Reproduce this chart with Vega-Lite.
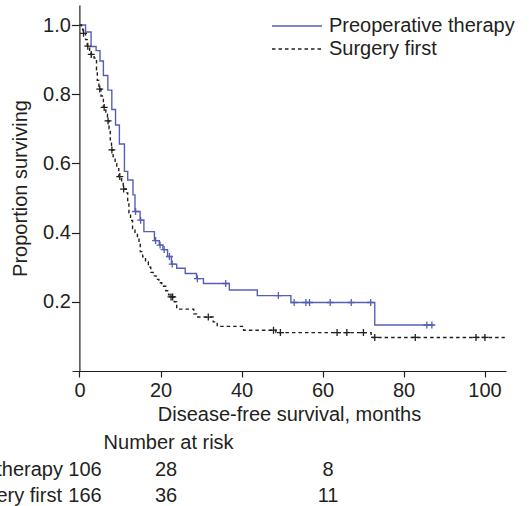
{
  "$schema": "https://vega.github.io/schema/vega-lite/v6.json",
  "width": 434,
  "height": 366,
  "autosize": {"type": "none"},
  "padding": {"left": 72, "top": 5, "right": 23, "bottom": 135},
  "config": {
    "view": {"stroke": null},
    "font": "Liberation Sans",
    "axis": {
      "labelFont": "Liberation Sans", "titleFont": "Liberation Sans",
      "labelFontSize": 20, "titleFontSize": 20, "titleFontWeight": "normal",
      "labelColor": "#231f20", "titleColor": "#231f20",
      "domainColor": "#231f20", "tickColor": "#231f20",
      "domainWidth": 1.2, "tickWidth": 1.2, "grid": false
    },
    "text": {"font": "Liberation Sans", "fontSize": 20, "color": "#231f20"}
  },
  "datasets": {
    "km": [
      {"group": "Preoperative therapy", "time": 0, "surv": 1.0},
      {"group": "Preoperative therapy", "time": 1.5, "surv": 0.98},
      {"group": "Preoperative therapy", "time": 2.86, "surv": 0.938},
      {"group": "Preoperative therapy", "time": 4.1, "surv": 0.926},
      {"group": "Preoperative therapy", "time": 5.06, "surv": 0.896},
      {"group": "Preoperative therapy", "time": 5.9, "surv": 0.854},
      {"group": "Preoperative therapy", "time": 7.0, "surv": 0.812},
      {"group": "Preoperative therapy", "time": 7.98, "surv": 0.756},
      {"group": "Preoperative therapy", "time": 8.9, "surv": 0.711},
      {"group": "Preoperative therapy", "time": 9.85, "surv": 0.656},
      {"group": "Preoperative therapy", "time": 11.1, "surv": 0.577},
      {"group": "Preoperative therapy", "time": 11.9, "surv": 0.552},
      {"group": "Preoperative therapy", "time": 13.2, "surv": 0.509},
      {"group": "Preoperative therapy", "time": 13.7, "surv": 0.461},
      {"group": "Preoperative therapy", "time": 14.96, "surv": 0.436},
      {"group": "Preoperative therapy", "time": 15.9, "surv": 0.403},
      {"group": "Preoperative therapy", "time": 18.5, "surv": 0.377},
      {"group": "Preoperative therapy", "time": 19.7, "surv": 0.364},
      {"group": "Preoperative therapy", "time": 20.6, "surv": 0.351},
      {"group": "Preoperative therapy", "time": 21.75, "surv": 0.331},
      {"group": "Preoperative therapy", "time": 22.7, "surv": 0.309},
      {"group": "Preoperative therapy", "time": 24.0, "surv": 0.297},
      {"group": "Preoperative therapy", "time": 26.1, "surv": 0.282},
      {"group": "Preoperative therapy", "time": 28.9, "surv": 0.267},
      {"group": "Preoperative therapy", "time": 30.6, "surv": 0.253},
      {"group": "Preoperative therapy", "time": 37.0, "surv": 0.234},
      {"group": "Preoperative therapy", "time": 43.9, "surv": 0.218},
      {"group": "Preoperative therapy", "time": 52.2, "surv": 0.198},
      {"group": "Preoperative therapy", "time": 72.9, "surv": 0.133},
      {"group": "Preoperative therapy", "time": 87.4, "surv": 0.133},
      {"group": "Surgery first", "time": 0, "surv": 1.0},
      {"group": "Surgery first", "time": 0.5, "surv": 0.988},
      {"group": "Surgery first", "time": 0.9, "surv": 0.976},
      {"group": "Surgery first", "time": 1.5, "surv": 0.958},
      {"group": "Surgery first", "time": 1.9, "surv": 0.939},
      {"group": "Surgery first", "time": 2.5, "surv": 0.927},
      {"group": "Surgery first", "time": 2.8, "surv": 0.915},
      {"group": "Surgery first", "time": 3.6, "surv": 0.905},
      {"group": "Surgery first", "time": 4.2, "surv": 0.87},
      {"group": "Surgery first", "time": 4.4, "surv": 0.84},
      {"group": "Surgery first", "time": 4.8, "surv": 0.815},
      {"group": "Surgery first", "time": 5.3, "surv": 0.795},
      {"group": "Surgery first", "time": 5.9, "surv": 0.762},
      {"group": "Surgery first", "time": 6.5, "surv": 0.742},
      {"group": "Surgery first", "time": 6.9, "surv": 0.723},
      {"group": "Surgery first", "time": 7.3, "surv": 0.7},
      {"group": "Surgery first", "time": 7.6, "surv": 0.668},
      {"group": "Surgery first", "time": 7.9, "surv": 0.639},
      {"group": "Surgery first", "time": 8.3, "surv": 0.62},
      {"group": "Surgery first", "time": 8.8, "surv": 0.6},
      {"group": "Surgery first", "time": 9.2, "surv": 0.585},
      {"group": "Surgery first", "time": 9.7, "surv": 0.562},
      {"group": "Surgery first", "time": 10.4, "surv": 0.545},
      {"group": "Surgery first", "time": 10.8, "surv": 0.526},
      {"group": "Surgery first", "time": 11.5, "surv": 0.515},
      {"group": "Surgery first", "time": 11.9, "surv": 0.49},
      {"group": "Surgery first", "time": 12.2, "surv": 0.457},
      {"group": "Surgery first", "time": 12.6, "surv": 0.435},
      {"group": "Surgery first", "time": 13.1, "surv": 0.412},
      {"group": "Surgery first", "time": 13.7, "surv": 0.395},
      {"group": "Surgery first", "time": 14.3, "surv": 0.385},
      {"group": "Surgery first", "time": 14.7, "surv": 0.37},
      {"group": "Surgery first", "time": 15.0, "surv": 0.345},
      {"group": "Surgery first", "time": 15.6, "surv": 0.33},
      {"group": "Surgery first", "time": 16.3, "surv": 0.315},
      {"group": "Surgery first", "time": 17.0, "surv": 0.3},
      {"group": "Surgery first", "time": 17.6, "surv": 0.285},
      {"group": "Surgery first", "time": 18.2, "surv": 0.275},
      {"group": "Surgery first", "time": 18.9, "surv": 0.265},
      {"group": "Surgery first", "time": 19.6, "surv": 0.255},
      {"group": "Surgery first", "time": 20.3, "surv": 0.245},
      {"group": "Surgery first", "time": 21.3, "surv": 0.232},
      {"group": "Surgery first", "time": 22.0, "surv": 0.22},
      {"group": "Surgery first", "time": 22.4, "surv": 0.214},
      {"group": "Surgery first", "time": 23.4, "surv": 0.2},
      {"group": "Surgery first", "time": 24.0, "surv": 0.179},
      {"group": "Surgery first", "time": 28.2, "surv": 0.165},
      {"group": "Surgery first", "time": 28.9, "surv": 0.156},
      {"group": "Surgery first", "time": 33.0, "surv": 0.142},
      {"group": "Surgery first", "time": 34.0, "surv": 0.129},
      {"group": "Surgery first", "time": 40.5, "surv": 0.118},
      {"group": "Surgery first", "time": 48.5, "surv": 0.111},
      {"group": "Surgery first", "time": 72.0, "surv": 0.097},
      {"group": "Surgery first", "time": 105, "surv": 0.097}
    ],
    "cens": [
      {"group": "Preoperative therapy", "time": 13.85, "surv": 0.461},
      {"group": "Preoperative therapy", "time": 15.1, "surv": 0.436},
      {"group": "Preoperative therapy", "time": 18.8, "surv": 0.377},
      {"group": "Preoperative therapy", "time": 19.9, "surv": 0.364},
      {"group": "Preoperative therapy", "time": 20.9, "surv": 0.351},
      {"group": "Preoperative therapy", "time": 22.2, "surv": 0.331},
      {"group": "Preoperative therapy", "time": 22.9, "surv": 0.309},
      {"group": "Preoperative therapy", "time": 29.1, "surv": 0.267},
      {"group": "Preoperative therapy", "time": 36.1, "surv": 0.253},
      {"group": "Preoperative therapy", "time": 49.1, "surv": 0.218},
      {"group": "Preoperative therapy", "time": 53.0, "surv": 0.198},
      {"group": "Preoperative therapy", "time": 55.9, "surv": 0.198},
      {"group": "Preoperative therapy", "time": 56.8, "surv": 0.198},
      {"group": "Preoperative therapy", "time": 61.9, "surv": 0.198},
      {"group": "Preoperative therapy", "time": 67.1, "surv": 0.198},
      {"group": "Preoperative therapy", "time": 71.9, "surv": 0.198},
      {"group": "Preoperative therapy", "time": 85.75, "surv": 0.133},
      {"group": "Preoperative therapy", "time": 87.0, "surv": 0.133},
      {"group": "Surgery first", "time": 1.0, "surv": 0.976},
      {"group": "Surgery first", "time": 2.05, "surv": 0.939},
      {"group": "Surgery first", "time": 2.9, "surv": 0.915},
      {"group": "Surgery first", "time": 5.0, "surv": 0.815},
      {"group": "Surgery first", "time": 6.1, "surv": 0.762},
      {"group": "Surgery first", "time": 7.05, "surv": 0.723},
      {"group": "Surgery first", "time": 8.0, "surv": 0.639},
      {"group": "Surgery first", "time": 9.95, "surv": 0.562},
      {"group": "Surgery first", "time": 10.9, "surv": 0.526},
      {"group": "Surgery first", "time": 22.6, "surv": 0.214},
      {"group": "Surgery first", "time": 23.0, "surv": 0.214},
      {"group": "Surgery first", "time": 31.8, "surv": 0.156},
      {"group": "Surgery first", "time": 47.9, "surv": 0.118},
      {"group": "Surgery first", "time": 49.6, "surv": 0.111},
      {"group": "Surgery first", "time": 63.6, "surv": 0.111},
      {"group": "Surgery first", "time": 66.0, "surv": 0.111},
      {"group": "Surgery first", "time": 70.1, "surv": 0.111},
      {"group": "Surgery first", "time": 72.9, "surv": 0.097},
      {"group": "Surgery first", "time": 82.9, "surv": 0.097},
      {"group": "Surgery first", "time": 97.9, "surv": 0.097},
      {"group": "Surgery first", "time": 100.1, "surv": 0.097}
    ],
    "risk": [
      {"group": "Preoperative therapy", "time": 0, "n": 106},
      {"group": "Preoperative therapy", "time": 20, "n": 28},
      {"group": "Preoperative therapy", "time": 60, "n": 8},
      {"group": "Surgery first", "time": 0, "n": 166},
      {"group": "Surgery first", "time": 20, "n": 36},
      {"group": "Surgery first", "time": 60, "n": 11}
    ],
    "header": [
      {"label": "Number at risk"}
    ]
  },
  "layer": [
    {
      "data": {"name": "km"},
      "mark": {"type": "line", "interpolate": "step-after", "strokeWidth": 1.4},
      "encoding": {
        "x": {
          "field": "time", "type": "quantitative",
          "title": "Disease-free survival, months",
          "scale": {"domain": [-1.85, 105.3], "nice": false, "zero": false},
          "axis": {"values": [0, 20, 40, 60, 80, 100], "tickSize": 6, "labelPadding": 3, "titleY": 33.5, "titleBaseline": "top", "labelFlush": false}
        },
        "y": {
          "field": "surv", "type": "quantitative",
          "title": "Proportion surviving",
          "scale": {"domain": [0, 1.058], "nice": false, "zero": false},
          "axis": {"values": [0.2, 0.4, 0.6, 0.8, 1.0], "format": ".1f", "tickSize": 8, "labelPadding": 1, "offset": -7.4, "titleX": -49, "titleBaseline": "bottom", "labelFlush": false}
        },
        "color": {
          "field": "group", "type": "nominal",
          "scale": {"domain": ["Preoperative therapy", "Surgery first"], "range": ["#5560b4", "#231f20"]},
          "legend": {
            "orient": "none", "legendX": 215, "legendY": 11, "title": null,
            "symbolType": "M-5,0H5", "symbolSize": 100, "symbolStrokeWidth": 1.3,
            "labelFontSize": 20, "labelOffset": 22, "rowPadding": 3, "padding": 0,
            "labelFont": "Liberation Sans", "labelColor": "#231f20", "labelLimit": 0
          }
        },
        "strokeDash": {
          "field": "group", "type": "nominal",
          "scale": {"domain": ["Preoperative therapy", "Surgery first"], "range": [[1, 0], [3.5, 3]]},
          "legend": {
            "orient": "none", "legendX": 215, "legendY": 11, "title": null,
            "symbolType": "M-5,0H5", "symbolSize": 100, "symbolStrokeWidth": 1.3,
            "labelFontSize": 20, "labelOffset": 22, "rowPadding": 3, "padding": 0,
            "labelFont": "Liberation Sans", "labelColor": "#231f20", "labelLimit": 0
          }
        }
      }
    },
    {
      "data": {"name": "cens"},
      "mark": {"type": "point", "shape": "M-1,0H1M0,-1V1", "filled": false, "size": 49, "strokeWidth": 1.3, "opacity": 1},
      "encoding": {
        "x": {"field": "time", "type": "quantitative", "title": "Disease-free survival, months"},
        "y": {"field": "surv", "type": "quantitative", "title": "Proportion surviving"},
        "color": {"field": "group", "type": "nominal", "legend": null}
      }
    },
    {
      "data": {"name": "header"},
      "mark": {"type": "text", "align": "center", "baseline": "middle"},
      "encoding": {
        "x": {"datum": 22},
        "y": {"datum": -0.208},
        "text": {"field": "label"}
      }
    },
    {
      "data": {"name": "risk"},
      "transform": [{"filter": "datum.group == 'Preoperative therapy' && datum.time == 0"}],
      "mark": {"type": "text", "align": "right", "baseline": "middle", "dx": -16.5},
      "encoding": {
        "x": {"datum": 0},
        "y": {"datum": -0.286},
        "text": {"field": "group"}
      }
    },
    {
      "data": {"name": "risk"},
      "transform": [{"filter": "datum.group == 'Surgery first' && datum.time == 0"}],
      "mark": {"type": "text", "align": "right", "baseline": "middle", "dx": -17.5},
      "encoding": {
        "x": {"datum": 0},
        "y": {"datum": -0.36},
        "text": {"field": "group"}
      }
    },
    {
      "data": {"name": "risk"},
      "transform": [{"filter": "datum.group == 'Preoperative therapy'"}],
      "mark": {"type": "text", "align": "center", "baseline": "middle", "dx": 5.5},
      "encoding": {
        "x": {"field": "time", "type": "quantitative", "title": "Disease-free survival, months"},
        "y": {"datum": -0.286},
        "text": {"field": "n"}
      }
    },
    {
      "data": {"name": "risk"},
      "transform": [{"filter": "datum.group == 'Surgery first'"}],
      "mark": {"type": "text", "align": "center", "baseline": "middle", "dx": 5.5},
      "encoding": {
        "x": {"field": "time", "type": "quantitative", "title": "Disease-free survival, months"},
        "y": {"datum": -0.36},
        "text": {"field": "n"}
      }
    }
  ]
}
